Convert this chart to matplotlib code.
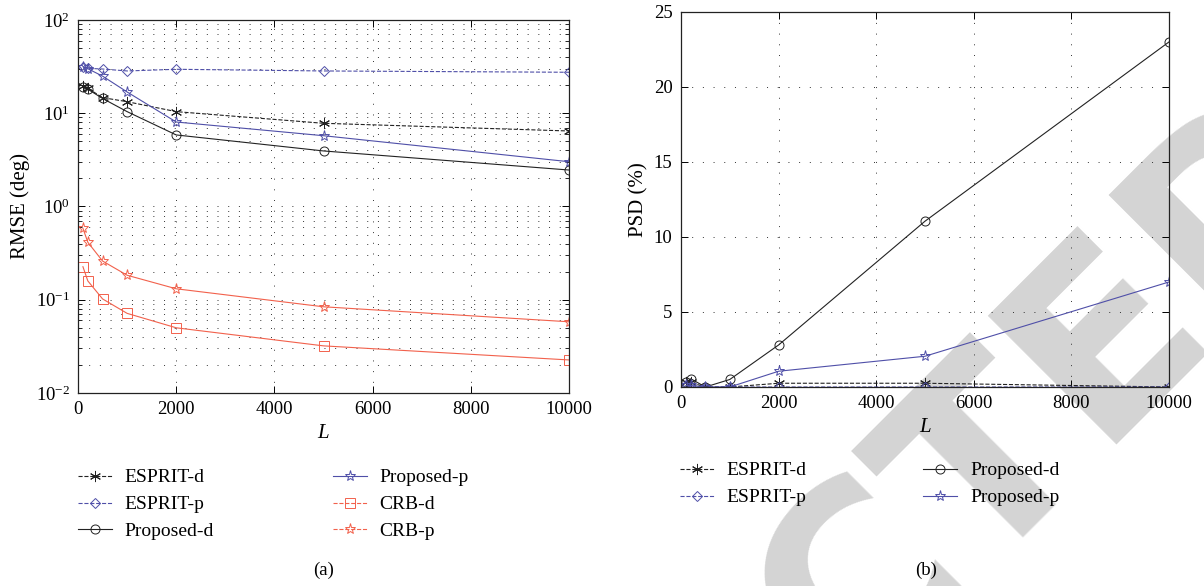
import matplotlib
matplotlib.use("Agg")
import matplotlib.pyplot as plt
from matplotlib.lines import Line2D
from matplotlib.ticker import LogLocator, NullFormatter

plt.rcParams["font.family"] = ["Liberation Serif", "DejaVu Serif"]
plt.rcParams["mathtext.fontset"] = "stix"

# Data
L = [100, 200, 500, 1000, 2000, 5000, 10000]

# (a) RMSE (deg)
rmse_esprit_d = [19.5, 18.5, 14.7, 13.3, 10.4, 7.8, 6.45]
rmse_esprit_p = [31.6, 30.3, 29.8, 28.4, 29.6, 28.4, 27.5]
rmse_prop_d = [18.9, 18.1, 14.4, 10.4, 5.85, 3.94, 2.46]
rmse_prop_p = [31.6, 30.0, 25.0, 16.9, 8.05, 5.74, 3.02]
rmse_crb_d = [0.226, 0.159, 0.102, 0.0714, 0.050, 0.032, 0.0226]
rmse_crb_p = [0.583, 0.413, 0.26, 0.183, 0.131, 0.084, 0.058]

# (b) PSD (%)
psd_esprit_d = [0.3, 0.3, 0.0, 0.0, 0.25, 0.25, 0.0]
psd_esprit_p = [0.1, 0.0, 0.0, 0.0, 0.0, 0.0, 0.0]
psd_prop_d = [0.3, 0.55, 0.0, 0.5, 2.8, 11.05, 23.0]
psd_prop_p = [0.1, 0.1, 0.0, 0.0, 1.05, 2.05, 7.0]

blue = "#4f4fa8"
red = "#f2614c"
black = "#222222"
grid_style = dict(color="#333333", linestyle=(0, (1, 10)), linewidth=0.7)

fig = plt.figure(figsize=(12.04, 5.86), dpi=100)

# faint watermark behind everything
fig.text(1.1306, 0.698, "RETRACTED", rotation=45, rotation_mode="anchor",
         ha="right", va="baseline", fontsize=180, fontweight="bold",
         family="DejaVu Sans", color="#d4d4d4", zorder=-5)

ax1 = fig.add_axes([0.0648, 0.3294, 0.4078, 0.6365])
ax2 = fig.add_axes([0.5656, 0.3396, 0.4053, 0.6400])
ax2.patch.set_alpha(0)

mk = dict(markersize=6.5, markeredgewidth=0.7, markerfacecolor="none", linewidth=0.8)
ast = (6, 2, 0)

# (a)
ax1.plot(L, rmse_esprit_d, color=black, linestyle="--", marker=ast, **{**mk, "markersize": 8})
ax1.plot(L, rmse_esprit_p, color=blue, linestyle="--", marker="D", **{**mk, "markersize": 5.5})
ax1.plot(L, rmse_prop_d, color=black, linestyle="-", marker="o", **mk)
ax1.plot(L, rmse_prop_p, color=blue, linestyle="-", marker="*", **{**mk, "markersize": 8})
ax1.plot(L, rmse_crb_d, color=red, linestyle="-", marker="s", **mk)
ax1.plot(L, rmse_crb_p, color=red, linestyle="-", marker="*", **{**mk, "markersize": 8})
ax1.set_yscale("log")
ax1.set_xlim(0, 10000)
ax1.set_ylim(1e-2, 1e2)
ax1.yaxis.set_minor_locator(LogLocator(base=10, subs=range(2, 10)))
ax1.yaxis.set_minor_formatter(NullFormatter())
ax1.grid(True, which="major", **grid_style)
ax1.grid(True, which="minor", axis="y", **grid_style)
ax1.set_xlabel("L", style="italic", fontsize=15, labelpad=4)
ax1.set_ylabel("RMSE (deg)", fontsize=15, labelpad=4)

handles1 = [
    Line2D([], [], color=black, linestyle="--", marker=ast, **{**mk, "markersize": 8}),
    Line2D([], [], color=blue, linestyle="--", marker="D", **{**mk, "markersize": 5.5}),
    Line2D([], [], color=black, linestyle="-", marker="o", **mk),
    Line2D([], [], color=blue, linestyle="-", marker="*", **{**mk, "markersize": 8}),
    Line2D([], [], color=red, linestyle="--", marker="s", **mk),
    Line2D([], [], color=red, linestyle="--", marker="*", **{**mk, "markersize": 8}),
]
labels1 = ["ESPRIT-d", "ESPRIT-p", "Proposed-d", "Proposed-p", "CRB-d", "CRB-p"]
fig.legend(handles1, labels1, loc="upper left", bbox_to_anchor=(0.0648, 0.200),
           ncol=2, frameon=False, fontsize=14, handlelength=1.75, handletextpad=0.65,
           columnspacing=6.1, labelspacing=0.48, borderpad=0, borderaxespad=0)

# (b)
ax2.plot(L, psd_esprit_d, color=black, linestyle="--", marker=ast, **{**mk, "markersize": 8})
ax2.plot(L, psd_esprit_p, color=blue, linestyle="--", marker="D", **{**mk, "markersize": 5.5})
ax2.plot(L, psd_prop_d, color=black, linestyle="-", marker="o", **mk)
ax2.plot(L, psd_prop_p, color=blue, linestyle="-", marker="*", **{**mk, "markersize": 8})
ax2.set_xlim(0, 10000)
ax2.set_ylim(0, 25)
ax2.set_yticks([0, 5, 10, 15, 20, 25])
ax2.grid(True, which="major", **grid_style)
ax2.set_xlabel("L", style="italic", fontsize=15, labelpad=4)
ax2.set_ylabel("PSD (%)", fontsize=15, labelpad=4)

handles2 = handles1[:4]
labels2 = labels1[:4]
fig.legend(handles2, labels2, loc="upper left", bbox_to_anchor=(0.5648, 0.212),
           ncol=2, frameon=False, fontsize=14, handlelength=1.75, handletextpad=0.65,
           columnspacing=6.0, labelspacing=0.48, borderpad=0, borderaxespad=0)

for ax in (ax1, ax2):
    ax.set_xticks([0, 2000, 4000, 6000, 8000, 10000])
    ax.tick_params(which="both", direction="in", top=True, right=True, labelsize=13.5, pad=6)
    ax.tick_params(which="major", length=5, width=0.7)
    ax.tick_params(which="minor", length=3, width=0.6)
    for s in ax.spines.values():
        s.set_linewidth(0.9)
        s.set_color("#222222")

fig.text(0.2687, 0.027, "(a)", ha="center", va="center", fontsize=13.5)
fig.text(0.769, 0.027, "(b)", ha="center", va="center", fontsize=13.5)

fig.savefig("out.png", dpi=100, facecolor="white")
